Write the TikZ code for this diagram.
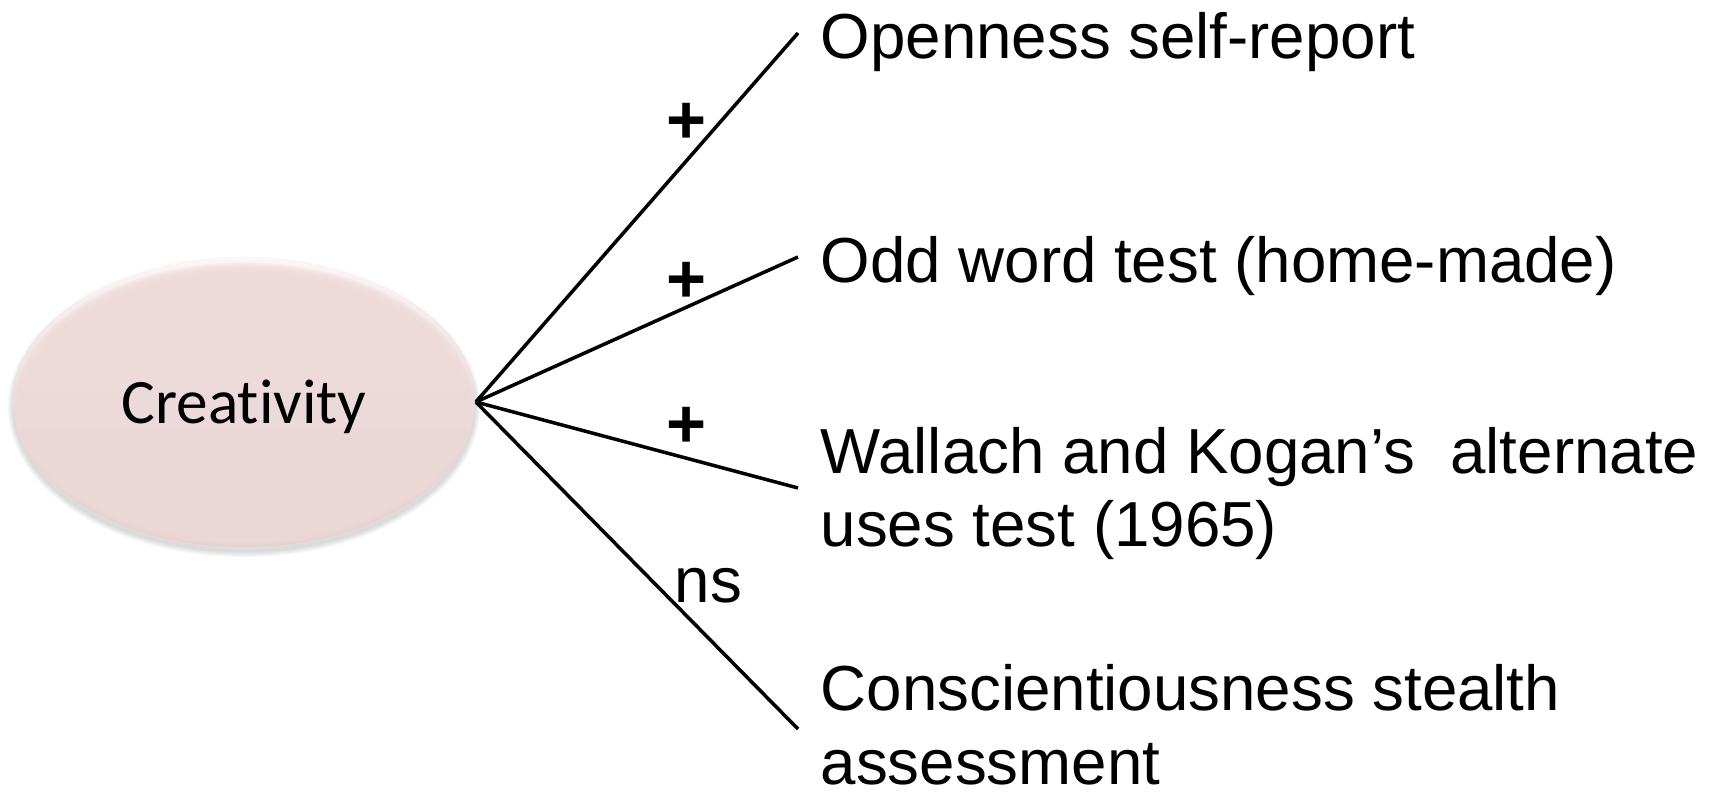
\documentclass[tikz,border=0pt]{standalone}
\usepackage{fontspec}
\setmainfont{Liberation Sans}
\newfontfamily\calibrifont[Ligatures=CommonOff]{Carlito}
\usetikzlibrary{shapes.geometric}

\definecolor{pinkcore}{RGB}{239,218,218}
\definecolor{rimtop}{RGB}{252,246,246}
\definecolor{rimbot}{RGB}{218,196,196}

\tikzset{
  canvas/.style={x=0.01cm,y=-0.01cm},
  link/.style={draw=black,line width=1pt},
  item/.style={anchor=base west,inner sep=0pt,align=left,
    font=\fontsize{18.1}{20.8}\selectfont},
  sign/.style={inner sep=0pt,font=\fontsize{19.5}{21}\selectfont\bfseries},
  nslabel/.style={anchor=base west,inner sep=0pt,
    font=\fontsize{18.1}{20.8}\selectfont},
  construct/.style={ellipse,inner sep=0pt,minimum width=4.62cm,
    minimum height=2.9cm,text height=0.5cm,text depth=0.08cm,
    font=\calibrifont\fontsize{18}{20}\selectfont}
}

\begin{document}
\begin{tikzpicture}[canvas]
\useasboundingbox (0,0) rectangle (1719,795);

% soft shadow under the ellipse
\foreach \i in {1,...,5}
  \fill[black,opacity=0.03] (244,407) ellipse [x radius={(2.30+0.012*\i)*1cm}, y radius={(1.44+0.012*\i)*1cm}];

% bevelled body: light rim on top, darker rim at the bottom
\shade[top color=rimtop,bottom color=rimbot] (244,402) ellipse [x radius=2.31cm, y radius=1.45cm];
\foreach \i in {1,...,10}
  \fill[pinkcore,opacity=0.32] (244,406) ellipse [x radius={(2.31-0.015*\i)*1cm}, y radius={(1.45-0.016*\i)*1cm}];

\node[construct] (crea) at (244,402) {Creativity};

% free ends of the connectors
\coordinate (e1) at (798,33);
\coordinate (e2) at (798,257);
\coordinate (e3) at (798,488);
\coordinate (e4) at (798,729);

\draw[link] (crea.east) -- (e1);
\draw[link] (crea.east) -- (e2);
\draw[link] (crea.east) -- (e3);
\draw[link] (crea.east) -- (e4);

% outcome measures (multi-line nodes sit on their last baseline)
\node[item] (t1) at (820,59) {Openness self-report};
\node[item] (t2) at (820,283) {Odd word test (home-made)};
\node[item] (t3) at (820,547) {Wallach and Kogan’s\ \ alternate\\uses test (1965)};
\node[item] (t4) at (820,784) {Conscientiousness stealth\\assessment};

% signs of the relations
\node[sign] (s1) at (687,123) {+};
\node[sign] (s2) at (687,282) {+};
\node[sign] (s3) at (687,427) {+};
\node[nslabel] (s4) at (674,603) {ns};
\end{tikzpicture}
\end{document}
